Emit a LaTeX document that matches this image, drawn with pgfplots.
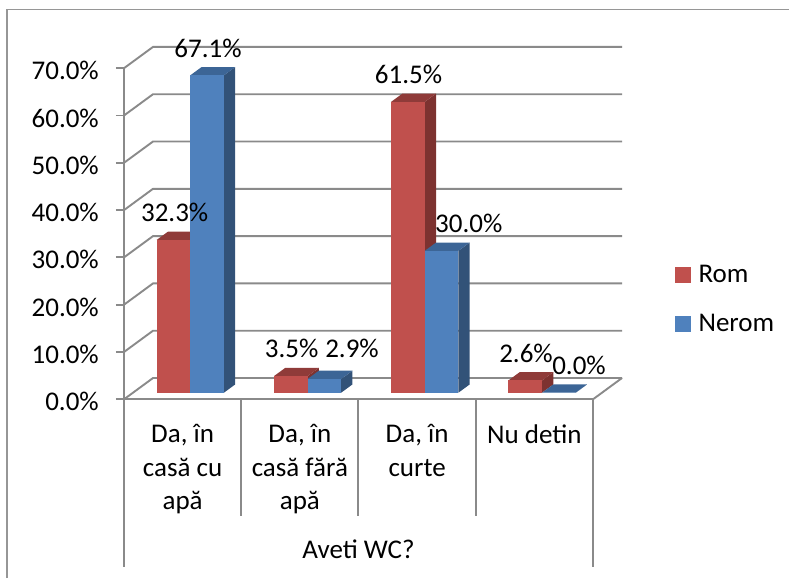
\documentclass[border=0pt]{standalone}
\usepackage{fontspec}
\setmainfont{Carlito}
\usepackage{pgfplots}
\pgfplotsset{compat=1.18}
\definecolor{gridgr}{HTML}{8A8A8A}
\definecolor{framegr}{HTML}{969696}
\definecolor{romF}{HTML}{C0504D}
\definecolor{romT}{HTML}{8F3B39}
\definecolor{romS}{HTML}{7D3230}
\definecolor{neromF}{HTML}{4F81BD}
\definecolor{neromT}{HTML}{3C6596}
\definecolor{neromS}{HTML}{325278}
\newcommand{\chartfont}{\fontsize{27}{33.3}\selectfont}
% bar in data coordinates: left edge, value, colours
\newcommand{\threedbar}[3]{%
  \pgfmathsetmacro{\xa}{#1}%
  \pgfmathsetmacro{\xb}{#1+0.2867}%
  \pgfmathsetmacro{\xc}{#1+0.2867+0.0964}%
  \pgfmathsetmacro{\xd}{#1+0.0964}%
  \pgfmathsetmacro{\ya}{1.4}%
  \pgfmathsetmacro{\yb}{#2+1.4}%
  \pgfmathsetmacro{\yc}{#2+1.4+1.75}%
  \pgfmathsetmacro{\yd}{1.4+1.75}%
  \addplot[forget plot,draw=none,fill=#3S] coordinates {(\xb,\ya) (\xc,\yd) (\xc,\yc) (\xb,\yb)} -- cycle;
  \addplot[forget plot,draw=none,fill=#3T] coordinates {(\xa,\yb) (\xb,\yb) (\xc,\yc) (\xd,\yc)} -- cycle;
  \addplot[forget plot,draw=none,fill=#3F] coordinates {(\xa,\ya) (\xb,\ya) (\xb,\yb) (\xa,\yb)} -- cycle;
}
\newcommand{\gridrow}[1]{%
  \pgfmathsetmacro{\yy}{#1+4.5}%
  \addplot[forget plot,gridgr,line width=1.9pt] coordinates {(0,#1) (0.2474,\yy) (4.2474,\yy)};
}
\begin{document}
\begin{tikzpicture}[x=1pt,y=1pt]
\path[use as bounding box] (-124,399.3-578) rectangle (789-124,399.3);
\begin{axis}[
  at={(0,0)},anchor=south west,
  scale only axis,width=469pt,height=331.1pt,
  xmin=0,xmax=4,ymin=0,ymax=70,
  clip=false,
  axis x line*=bottom,axis y line*=left,
  axis line style={gridgr,line width=1.9pt,-},
  ytick={0,10,...,70},
  ytick style={gridgr,line width=1.9pt},
  tick align=outside,
  major tick length=8pt,
  yticklabel={\pgfmathprintnumber[fixed,fixed zerofill,precision=1,assume math mode=true]{\tick}\%},
  yticklabel style={font=\chartfont,inner sep=0pt,xshift=-17pt,yshift=-2.5pt},
  xtick={0.5,1.5,2.5,3.5},
  xticklabels={{Da, în\\casă cu\\apă},{Da, în\\casă fără\\apă},{Da, în\\curte},{Nu detin}},
  xticklabel style={font=\chartfont,align=center,anchor=north,inner sep=0pt,yshift=-17pt},
  xtick style={draw=none},
  xlabel={Aveti WC?},
  xlabel style={font=\chartfont,at={(axis description cs:0.5,0)},anchor=base,yshift=-158.7pt},
  legend style={at={(551pt,136pt)},anchor=north west,draw=none,fill=none,
    font=\chartfont,inner sep=0pt,row sep=26pt,
    /tikz/every odd column/.append style={column sep=6pt},
    cells={anchor=west}},
  legend image code/.code={\fill[#1] (0pt,-7.5pt) rectangle (15pt,7.5pt);},
]
\addlegendimage{romF}
\addlegendentry{Rom}
\addlegendimage{neromF}
\addlegendentry{Nerom}
% back wall
\gridrow{0}\gridrow{10}\gridrow{20}\gridrow{30}\gridrow{40}\gridrow{50}\gridrow{60}\gridrow{70}
\addplot[forget plot,gridgr,line width=1.9pt] coordinates {(4,0) (4.2474,4.5)};
% bars
\threedbar{0.279}{32.3}{rom}
\threedbar{0.5657}{67.1}{nerom}
\threedbar{1.279}{3.5}{rom}
\threedbar{1.5657}{2.9}{nerom}
\threedbar{2.279}{61.5}{rom}
\threedbar{2.5657}{30.0}{nerom}
\threedbar{3.279}{2.6}{rom}
\threedbar{3.5657}{0.0}{nerom}
\end{axis}
% category dividers
\foreach \xx/\ll in {0/168,117.2/117,234.4/117,351.6/117,468.8/168}
  \draw[gridgr,line width=1.9pt] (\xx,0) -- (\xx,-\ll);
% outer frame
\draw[framegr,line width=1.9pt] (7.3-124,399.3-578) -- (7.3-124,399.3-9.5) -- (789-124,399.3-9.5);
% data labels (px centre x, baseline)
\foreach \px/\py/\tt in {208/58/67.1\%,174.7/221.7/32.3\%,291.7/358/3.5\%,352/358/2.9\%,408.5/83.3/61.5\%,468.8/233/30.0\%,526/363/2.6\%,579/374.7/0.0\%}
  \node[font=\chartfont,anchor=base,inner sep=0pt] at (\px-124,399.3-\py) {\tt};
\end{tikzpicture}
\end{document}
